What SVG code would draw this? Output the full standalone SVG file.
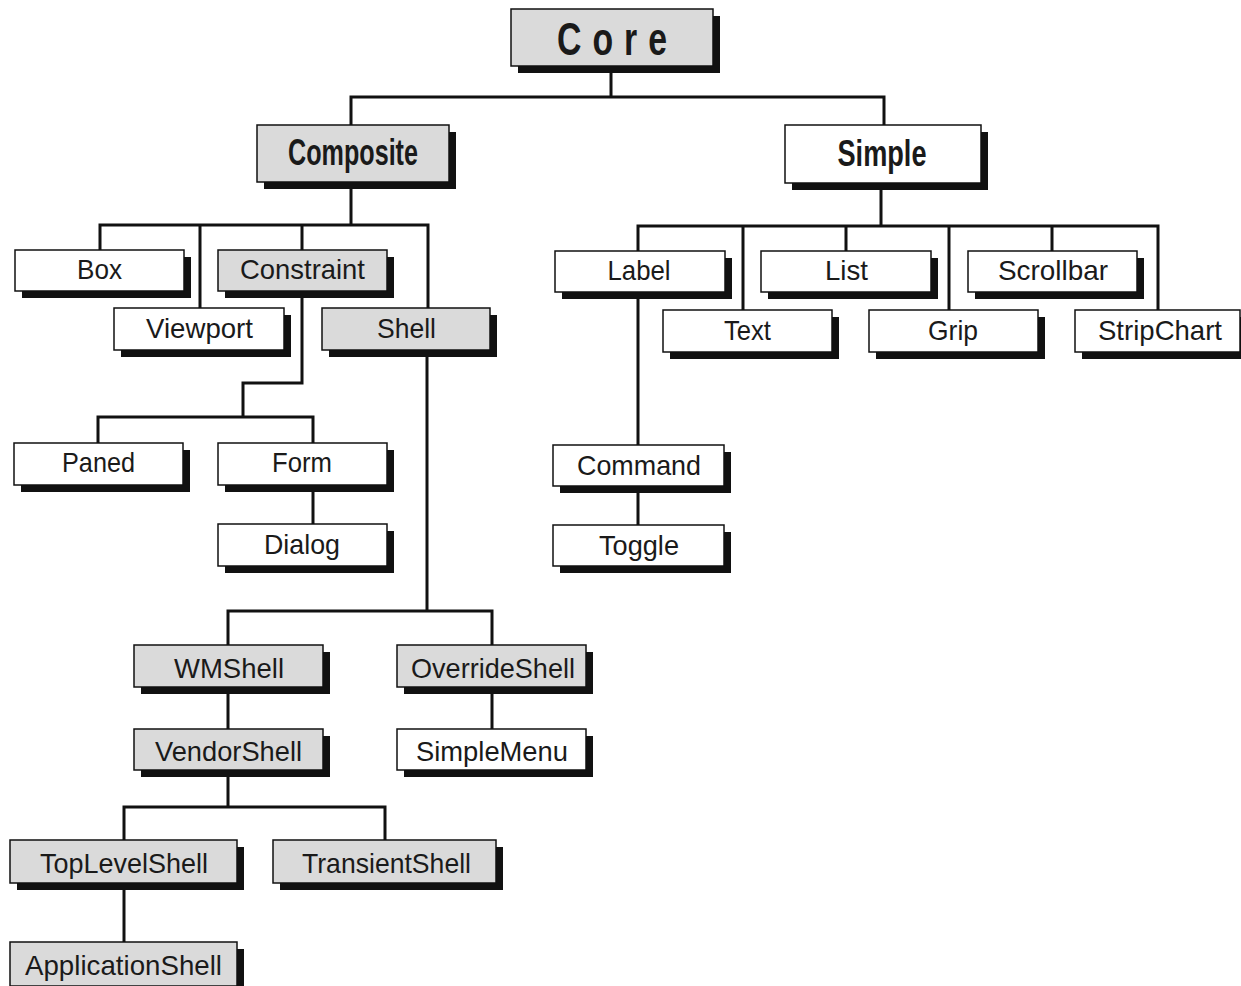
<svg xmlns="http://www.w3.org/2000/svg" width="1241" height="986" viewBox="0 0 1241 986">
<style>
.sh{fill:#111}
.bx{stroke:#111;stroke-width:1.5}
.g{fill:#dadada}
.w{fill:#ffffff}
.t{font-family:"Liberation Sans Narrow","Liberation Sans",Arial,sans-serif;font-size:28px;fill:#1a1a1a;text-anchor:middle}
.b{font-weight:bold;font-size:37px}
.core{font-weight:bold;font-size:47px}
.c{fill:none;stroke:#111;stroke-width:3;stroke-linecap:square}
</style>
<rect width="1241" height="986" fill="#ffffff"/>
<g id="connectors" class="c">
<path d="M611,66V97M351,97H884M351,97V125M884,97V125"/>
<path d="M351,182V225M100,225H428M100,225V250M200,225V308M302,225V250M428,225V308"/>
<path d="M302,291V383H243V417M98,417H313M98,417V443M313,417V443"/>
<path d="M313,485V524"/>
<path d="M427,350V611M228,611H492M228,611V645M492,611V645"/>
<path d="M228,687V729M492,687V729"/>
<path d="M228,770V807M124,807H385M124,807V840M385,807V840"/>
<path d="M124,883V942"/>
<path d="M881,183V226M638,226H1158M638,226V251M743,226V310M846,226V251M949,226V310M1052,226V251M1158,226V310"/>
<path d="M638,292V445M638,486V525"/>
</g>
<g id="core"><rect class="sh" x="518" y="16" width="202" height="57"/><rect class="bx g" x="511" y="9" width="202" height="57"/><text class="t core" transform="translate(612,55) scale(0.72,1)" x="0" y="0" textLength="153" lengthAdjust="spacing">Core</text></g>
<g id="composite"><rect class="sh" x="264" y="132" width="192" height="57"/><rect class="bx g" x="257" y="125" width="192" height="57"/><text class="t b" x="353" y="165" textLength="130" lengthAdjust="spacingAndGlyphs">Composite</text></g>
<g id="simple"><rect class="sh" x="792" y="132" width="196" height="58"/><rect class="bx w" x="785" y="125" width="196" height="58"/><text class="t b" x="882" y="166" textLength="89" lengthAdjust="spacingAndGlyphs">Simple</text></g>
<g id="box"><rect class="sh" x="22" y="257" width="169" height="41"/><rect class="bx w" x="15" y="250" width="169" height="41"/><text class="t" x="99.5" y="279" textLength="45" lengthAdjust="spacingAndGlyphs">Box</text></g>
<g id="constraint"><rect class="sh" x="225" y="257" width="169" height="41"/><rect class="bx g" x="218" y="250" width="169" height="41"/><text class="t" x="302.5" y="279" textLength="125" lengthAdjust="spacingAndGlyphs">Constraint</text></g>
<g id="viewport"><rect class="sh" x="121" y="315" width="170" height="42"/><rect class="bx w" x="114" y="308" width="170" height="42"/><text class="t" x="199.5" y="338" textLength="107" lengthAdjust="spacingAndGlyphs">Viewport</text></g>
<g id="shell"><rect class="sh" x="329" y="315" width="168" height="42"/><rect class="bx g" x="322" y="308" width="168" height="42"/><text class="t" x="406.5" y="338" textLength="59" lengthAdjust="spacingAndGlyphs">Shell</text></g>
<g id="paned"><rect class="sh" x="21" y="450" width="169" height="42"/><rect class="bx w" x="14" y="443" width="169" height="42"/><text class="t" x="98.5" y="472" textLength="73" lengthAdjust="spacingAndGlyphs">Paned</text></g>
<g id="form"><rect class="sh" x="225" y="450" width="169" height="42"/><rect class="bx w" x="218" y="443" width="169" height="42"/><text class="t" x="302" y="472" textLength="60" lengthAdjust="spacingAndGlyphs">Form</text></g>
<g id="dialog"><rect class="sh" x="225" y="531" width="169" height="42"/><rect class="bx w" x="218" y="524" width="169" height="42"/><text class="t" x="302" y="554" textLength="76" lengthAdjust="spacingAndGlyphs">Dialog</text></g>
<g id="label"><rect class="sh" x="562" y="258" width="170" height="41"/><rect class="bx w" x="555" y="251" width="170" height="41"/><text class="t" x="639" y="280" textLength="63" lengthAdjust="spacingAndGlyphs">Label</text></g>
<g id="list"><rect class="sh" x="768" y="258" width="170" height="41"/><rect class="bx w" x="761" y="251" width="170" height="41"/><text class="t" x="846.5" y="280" textLength="43" lengthAdjust="spacingAndGlyphs">List</text></g>
<g id="scrollbar"><rect class="sh" x="975" y="258" width="169" height="41"/><rect class="bx w" x="968" y="251" width="169" height="41"/><text class="t" x="1053" y="280" textLength="110" lengthAdjust="spacingAndGlyphs">Scrollbar</text></g>
<g id="text"><rect class="sh" x="670" y="317" width="169" height="42"/><rect class="bx w" x="663" y="310" width="169" height="42"/><text class="t" x="747.5" y="340" textLength="47" lengthAdjust="spacingAndGlyphs">Text</text></g>
<g id="grip"><rect class="sh" x="876" y="317" width="169" height="42"/><rect class="bx w" x="869" y="310" width="169" height="42"/><text class="t" x="953" y="340" textLength="50" lengthAdjust="spacingAndGlyphs">Grip</text></g>
<g id="stripchart"><rect class="sh" x="1082" y="317" width="165" height="42"/><rect class="bx w" x="1075" y="310" width="165" height="42"/><text class="t" x="1160" y="340" textLength="124" lengthAdjust="spacingAndGlyphs">StripChart</text></g>
<g id="command"><rect class="sh" x="560" y="452" width="171" height="41"/><rect class="bx w" x="553" y="445" width="171" height="41"/><text class="t" x="639" y="475" textLength="124" lengthAdjust="spacingAndGlyphs">Command</text></g>
<g id="toggle"><rect class="sh" x="560" y="532" width="171" height="41"/><rect class="bx w" x="553" y="525" width="171" height="41"/><text class="t" x="639" y="555" textLength="80" lengthAdjust="spacingAndGlyphs">Toggle</text></g>
<g id="wmshell"><rect class="sh" x="141" y="652" width="189" height="42"/><rect class="bx g" x="134" y="645" width="189" height="42"/><text class="t" x="229" y="678" textLength="110" lengthAdjust="spacingAndGlyphs">WMShell</text></g>
<g id="overrideshell"><rect class="sh" x="404" y="652" width="189" height="42"/><rect class="bx g" x="397" y="645" width="189" height="42"/><text class="t" x="493" y="678" textLength="164" lengthAdjust="spacingAndGlyphs">OverrideShell</text></g>
<g id="vendorshell"><rect class="sh" x="141" y="736" width="189" height="41"/><rect class="bx g" x="134" y="729" width="189" height="41"/><text class="t" x="228.5" y="761" textLength="147" lengthAdjust="spacingAndGlyphs">VendorShell</text></g>
<g id="simplemenu"><rect class="sh" x="404" y="736" width="189" height="41"/><rect class="bx w" x="397" y="729" width="189" height="41"/><text class="t" x="492" y="761" textLength="152" lengthAdjust="spacingAndGlyphs">SimpleMenu</text></g>
<g id="toplevelshell"><rect class="sh" x="17" y="847" width="227" height="43"/><rect class="bx g" x="10" y="840" width="227" height="43"/><text class="t" x="124" y="873" textLength="168" lengthAdjust="spacingAndGlyphs">TopLevelShell</text></g>
<g id="transientshell"><rect class="sh" x="280" y="847" width="223" height="43"/><rect class="bx g" x="273" y="840" width="223" height="43"/><text class="t" x="386.5" y="873" textLength="169" lengthAdjust="spacingAndGlyphs">TransientShell</text></g>
<g id="applicationshell"><rect class="sh" x="17" y="949" width="227" height="44"/><rect class="bx g" x="10" y="942" width="227" height="44"/><text class="t" x="123.5" y="975" textLength="197" lengthAdjust="spacingAndGlyphs">ApplicationShell</text></g>
</svg>
